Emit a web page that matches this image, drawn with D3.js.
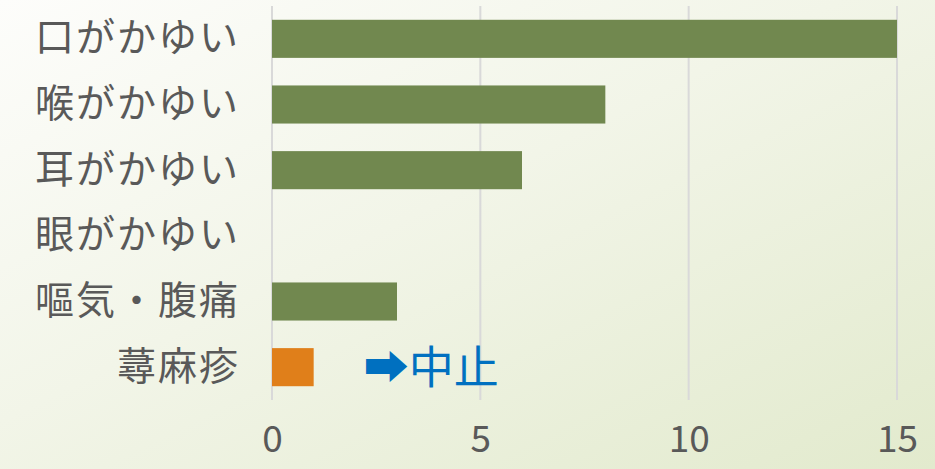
<!DOCTYPE html>
<html>
<head>
<meta charset="utf-8">
<script src="https://cdn.jsdelivr.net/npm/d3@7"></script>
<style>
  body { margin: 0; }
  svg { display: block; }
</style>
</head>
<body>
<div id="chart"></div>
<script>
// data
const categories = ["口がかゆい", "喉がかゆい", "耳がかゆい", "眼がかゆい", "嘔気・腹痛", "蕁麻疹"]
const counts = [15, 8, 6, 0, 3, 1]
const barColors = ["#71884f", "#71884f", "#71884f", "#71884f", "#71884f", "#e07f1a"]
const xTicks = [0, 5, 10, 15]
const note = {label: "➡中止", at: 2.2, category: "蕁麻疹"}

const W = 935, H = 469
const margin = {top: 6, right: 38, bottom: 69, left: 272},
  width = W - margin.left - margin.right,
  height = H - margin.top - margin.bottom

const font = "'Noto Sans CJK JP', 'Noto Sans', sans-serif"

const svg = d3.select("#chart")
.append("svg")
  .attr("width", W)
  .attr("height", H)

// background gradient
const defs = svg.append("defs")
const grad = defs.append("linearGradient")
  .attr("id", "bg")
  .attr("x1", "0").attr("y1", "0")
  .attr("x2", "1").attr("y2", "1")
grad.append("stop").attr("offset", "0%").attr("stop-color", "#fdfdfb")
grad.append("stop").attr("offset", "45%").attr("stop-color", "#f2f5e8")
grad.append("stop").attr("offset", "100%").attr("stop-color", "#e2eacd")
svg.append("rect")
  .attr("width", W).attr("height", H)
  .attr("fill", "url(#bg)")

const g = svg.append("g")
  .attr("transform", `translate(${margin.left},${margin.top})`)

const x = d3.scaleLinear()
  .domain([0, 15])
  .range([0, width])

const y = d3.scaleBand()
  .domain(categories)
  .range([0, height])
  .paddingInner(0.42)
  .paddingOuter(0.21)

// gridlines
g.selectAll(".grid")
  .data(xTicks)
  .enter()
  .append("line")
    .attr("x1", d => x(d)).attr("x2", d => x(d))
    .attr("y1", 0).attr("y2", height)
    .attr("stroke", "#d9d9d9")
    .attr("stroke-width", 2)

// x axis labels
const xAxis = g.append("g")
  .attr("transform", `translate(0, ${height})`)
  .call(d3.axisBottom(x).tickValues(xTicks).tickSize(0).tickPadding(26))
xAxis.select(".domain").remove()
xAxis.selectAll("text")
  .style("font-family", font)
  .style("font-size", "37px")
  .attr("fill", "#595959")

// y axis labels
const yAxis = g.append("g")
  .call(d3.axisLeft(y).tickSize(0).tickPadding(32))
yAxis.select(".domain").remove()
yAxis.selectAll("text")
  .style("font-family", font)
  .style("font-size", "39px")
  .style("letter-spacing", "2px")
  .attr("fill", "#595959")

// bars
g.selectAll(".bar")
  .data(categories)
  .enter()
  .append("rect")
    .attr("x", x(0))
    .attr("y", d => y(d))
    .attr("width", (d, i) => x(counts[i]) - x(0))
    .attr("height", y.bandwidth())
    .attr("fill", (d, i) => barColors[i])

// annotation
g.append("text")
  .attr("x", x(note.at))
  .attr("y", y(note.category) + y.bandwidth() / 2)
  .attr("dy", "0.38em")
  .text(note.label)
  .style("font-family", font)
  .style("font-size", "45px")
  .attr("fill", "#0070c0")
</script>
</body>
</html>
